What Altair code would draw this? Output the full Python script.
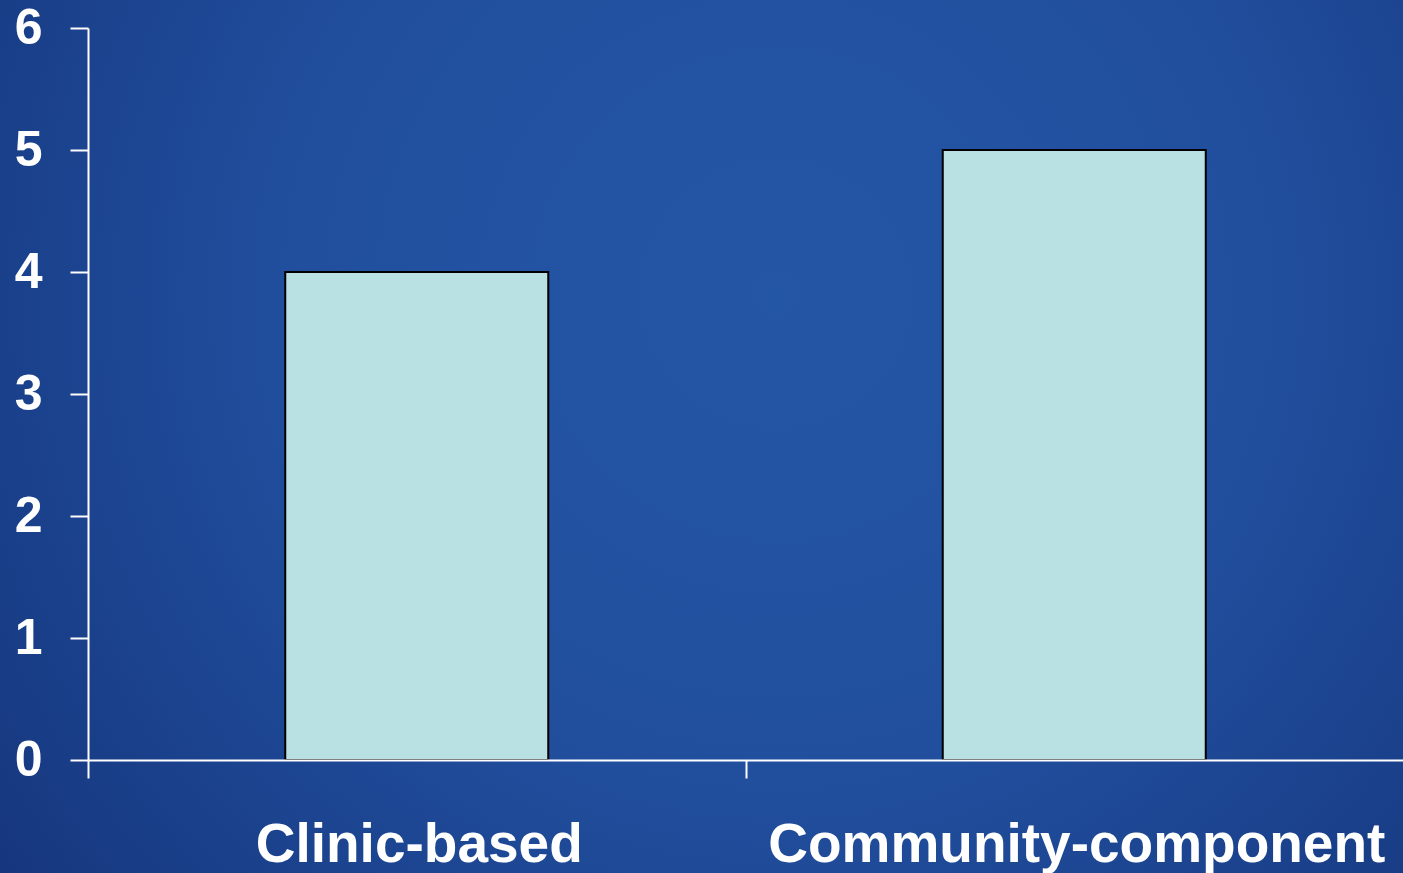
import altair as alt
import pandas as pd

categories = ["Clinic-based", "Community-component"]
values = [4, 5]
y_ticks = [0, 1, 2, 3, 4, 5, 6]

df = pd.DataFrame({"category": categories, "value": values})

W, H = 1315, 732
step = W / 2

bg = alt.Chart(pd.DataFrame({"k": [0]})).mark_rect(
    fill={
        "gradient": "radial",
        "x1": 0.55, "y1": 0.4, "x2": 0.55, "y2": 0.4,
        "r1": 0, "r2": 0.68,
        "stops": [
            {"offset": 0, "color": "#2456a6"},
            {"offset": 0.5, "color": "#214f9e"},
            {"offset": 1, "color": "#16377f"},
        ],
    },
    clip=False,
).encode(
    x=alt.value(-88), x2=alt.value(W + 10),
    y=alt.value(-28), y2=alt.value(H + 113),
)

bars = alt.Chart(df).mark_bar(
    fill="#b9e0e3", stroke="#000000", strokeWidth=2
).encode(
    x=alt.X(
        "category:N",
        sort=categories,
        title=None,
        scale=alt.Scale(paddingInner=0.6, paddingOuter=0.3),
        axis=alt.Axis(
            zindex=2,
            labelAngle=0,
            labelFont="Liberation Sans",
            labelFontWeight="bold",
            labelFontSize=55,
            labelColor="white",
            labelPadding=40,
            labelLimit=0,
            labelOffset=step / 2 + 2,
            tickSize=18,
            tickColor="white",
            tickWidth=2,
            tickOffset=-step / 2,
            domainColor="white",
            domainWidth=2,
        ),
    ),
    y=alt.Y(
        "value:Q",
        title=None,
        scale=alt.Scale(domain=[0, 6], nice=False),
        axis=alt.Axis(
            zindex=2,
            values=y_ticks,
            grid=False,
            labelFont="Liberation Sans",
            labelFontWeight="bold",
            labelFontSize=50,
            labelColor="white",
            labelPadding=28,
            tickSize=18,
            tickColor="white",
            tickWidth=2,
            domainColor="white",
            domainWidth=2,
        ),
    ),
)

chart = alt.layer(bg, bars).properties(
    width=W,
    height=H,
    padding={"left": 88, "top": 28, "right": 0, "bottom": 113},
    autosize=alt.AutoSizeParams(type="none"),
    background="#1a3e8a",
).configure_view(stroke=None)

chart.save("out.html", embed_options={"renderer": "svg", "actions": False})
